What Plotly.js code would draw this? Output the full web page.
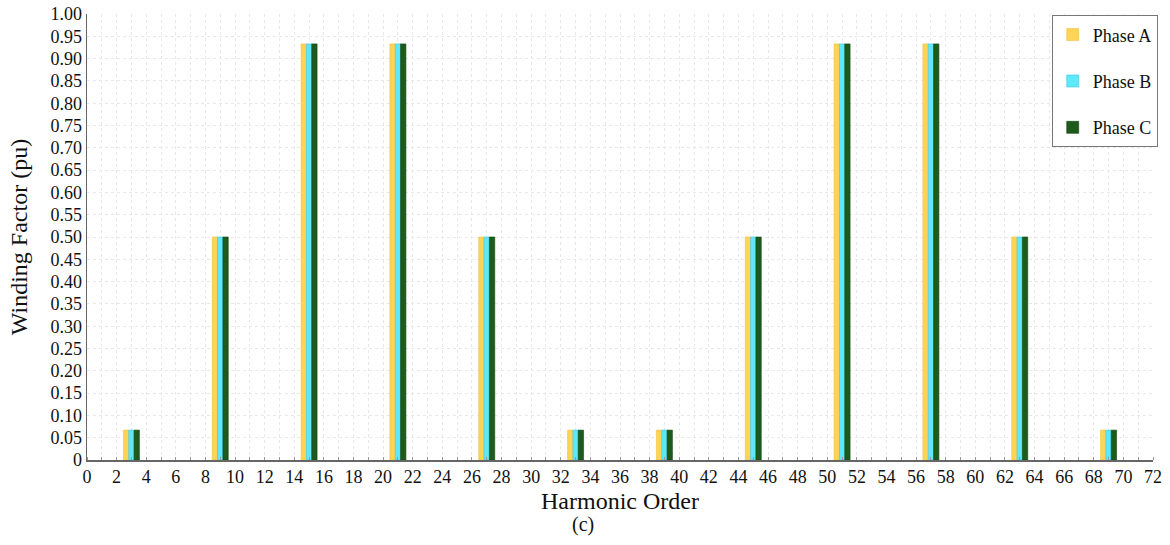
<!DOCTYPE html>
<html>
<head>
<meta charset="utf-8">
<script src="https://cdn.plot.ly/plotly-3.0.1.min.js"></script>
<style>
  html, body { margin: 0; padding: 0; background: #ffffff; }
  #chart { width: 1170px; height: 545px; }
</style>
</head>
<body>
<div id="chart"></div>
<script>
// Harmonic orders and winding factors for the three phases
const harmonics = [3, 9, 15, 21, 27, 33, 39, 45, 51, 57, 63, 69];
const phaseA = [0.067, 0.5, 0.933, 0.933, 0.5, 0.067, 0.067, 0.5, 0.933, 0.933, 0.5, 0.067];
const phaseB = [0.067, 0.5, 0.933, 0.933, 0.5, 0.067, 0.067, 0.5, 0.933, 0.933, 0.5, 0.067];
const phaseC = [0.067, 0.5, 0.933, 0.933, 0.5, 0.067, 0.067, 0.5, 0.933, 0.933, 0.5, 0.067];

const seriesNames = ['Phase A', 'Phase B', 'Phase C'];

// Axis tick labels
const xTicks = [];
for (let v = 0; v <= 72; v += 2) xTicks.push(v);
const yTickVals = [];
const yTickText = [];
for (let i = 0; i <= 20; i++) {
  yTickVals.push(i * 0.05);
  yTickText.push(i === 0 ? '0' : (i * 0.05).toFixed(2));
}

const serif = 'Liberation Serif, Times New Roman, serif';

const colors = ['#FFD455', '#5FE8FA', '#1E5A1C'];
const lines = ['#F2C040', '#3FC8E8', '#0E4A0E'];

const traces = [phaseA, phaseB, phaseC].map((vals, i) => ({
  type: 'bar',
  name: seriesNames[i],
  legendgroup: 'g' + i,
  x: harmonics,
  y: vals,
  marker: { color: colors[i], line: { color: lines[i], width: 0.6 } }
}));

const layout = {
  width: 1170,
  height: 545,
  margin: { l: 87, r: 15, t: 14, b: 85 },
  paper_bgcolor: '#ffffff',
  plot_bgcolor: '#ffffff',
  barmode: 'group',
  bargap: 0.82,
  bargroupgap: 0,
  showlegend: true,
  legend: {
    x: 0.905, y: 0.997, xanchor: 'left', yanchor: 'top',
    bgcolor: '#ffffff',
    bordercolor: '#777777',
    borderwidth: 1,
    font: { family: serif, size: 18, color: '#111111' },
    tracegroupgap: 20,
    itemwidth: 30,
    valign: 'middle'
  },
  xaxis: {
    range: [0, 72],
    tickvals: xTicks,
    ticks: '',
    tickfont: { family: serif, size: 18, color: '#111111' },
    showgrid: true,
    gridcolor: '#e8e8e8',
    griddash: 'dot',
    gridwidth: 1,
    minor: { dtick: 1, showgrid: true, gridcolor: '#e8e8e8', griddash: 'dot', ticks: 'inside', ticklen: 3, tickcolor: '#999999' },
    showline: true,
    linecolor: '#666666',
    linewidth: 1.5,
    zeroline: false,
    title: { text: 'Harmonic Order', font: { family: serif, size: 24, color: '#111111' }, standoff: 6 }
  },
  yaxis: {
    range: [0, 1],
    tickvals: yTickVals,
    ticktext: yTickText,
    ticks: '',
    tickfont: { family: serif, size: 18, color: '#111111' },
    showgrid: true,
    gridcolor: '#e8e8e8',
    griddash: 'dot',
    showline: true,
    linecolor: '#666666',
    linewidth: 1.5,
    zeroline: false,
    title: { text: 'Winding Factor (pu)', font: { family: serif, size: 24, color: '#111111' }, standoff: 16 }
  },
  annotations: [{
    text: '(c)', xref: 'paper', yref: 'paper', x: 0.465, y: 0,
    xanchor: 'center', yanchor: 'top', yshift: -51, showarrow: false,
    font: { family: serif, size: 20, color: '#111111' }
  }]
};

Plotly.newPlot('chart', traces, layout, { displayModeBar: false, staticPlot: true });
</script>
</body>
</html>
